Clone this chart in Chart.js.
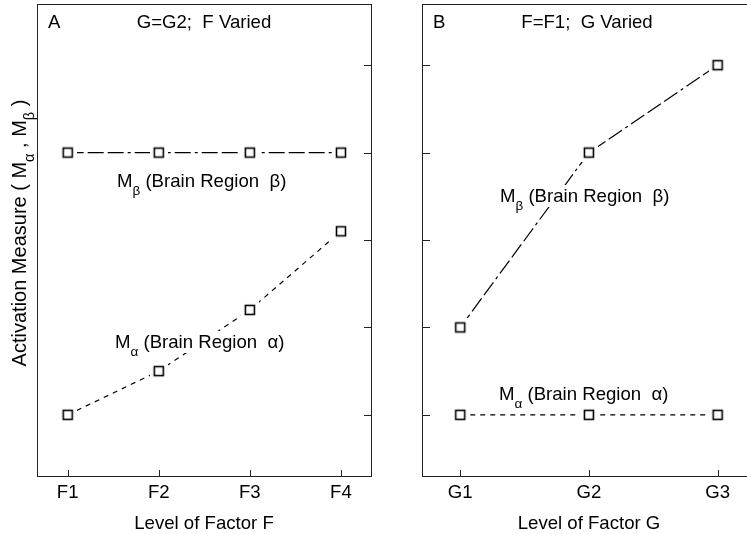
<!DOCTYPE html>
<html><head><meta charset="utf-8">
<script src="https://cdn.jsdelivr.net/npm/chart.js@4.4.1/dist/chart.umd.min.js"></script>
<style>
html,body{margin:0;padding:0;background:#fff;overflow:hidden;width:747px;height:534px;}
#wrap{position:relative;width:747px;height:534px;overflow:hidden;background:#fff;}
.pane{position:absolute;top:0;width:380px;height:534px;}
#pa{left:0;}
#pb{left:380px;}
canvas{display:block;}
</style></head><body>
<div id="wrap">
<div class="pane" id="pa"><canvas id="ca" width="380" height="534"></canvas></div>
<div class="pane" id="pb"><canvas id="cb" width="380" height="534"></canvas></div>
</div>
<script>
// ---- data ----
const factorF = ['F1', 'F2', 'F3', 'F4'];
const factorG = ['G1', 'G2', 'G3'];
const alphaVaryF = [1, 1.5, 2.2, 3.1];   // M_alpha, G=G2, F varied
const betaVaryF  = [4, 4, 4, 4];         // M_beta,  G=G2, F varied
const alphaVaryG = [1, 1, 1];            // M_alpha, F=F1, G varied
const betaVaryG  = [2, 4, 5];            // M_beta,  F=F1, G varied
const yTickValues = [1, 2, 3, 4, 5];

// ---- styling ----
const FONT = "'Liberation Sans', Arial, Helvetica, sans-serif";
const FS = 18.6, SUB = 13.5;
const INK = '#000';
const ALPHA_DASH = [5, 5];
const BETA_DASH = [16, 4, 16, 4, 16, 4, 3, 4];

// open square marker with a white margin, so lines stop short of it
const marker = (() => {
  const c = document.createElement('canvas');
  c.width = 18; c.height = 18;
  const g = c.getContext('2d');
  g.fillStyle = '#fff'; g.fillRect(0, 0, 18, 18);
  g.strokeStyle = INK; g.lineWidth = 1.6;
  g.strokeRect(4.5, 4.5, 9, 9);
  return c;
})();

function pts(vals) { return vals.map((v, i) => ({ x: i, y: v })); }

function richText(ctx, x, y, parts, align, size, knockout) {
  const fs = size || FS, ss = SUB * fs / FS;
  let total = 0;
  const widths = parts.map(p => {
    ctx.font = (p.sub ? ss : fs) + 'px ' + FONT;
    const w = ctx.measureText(p.t).width; total += w; return w;
  });
  let cx = align === 'center' ? x - total / 2 : x;
  if (knockout) {
    ctx.save();
    ctx.fillStyle = '#fff';
    ctx.fillRect(cx - 2, y - 17, total + 4, 22);
    ctx.restore();
  }
  parts.forEach((p, i) => {
    ctx.font = (p.sub ? ss : fs) + 'px ' + FONT;
    ctx.fillText(p.t, cx, y + (p.sub ? 8 : 0));
    cx += widths[i];
  });
}

function makePanel(canvas, cfg) {
  const decor = {
    id: 'decor',
    beforeDatasetsDraw(chart) {
      const { ctx, chartArea: a, scales } = chart;
      ctx.save();
      ctx.strokeStyle = '#222';
      ctx.lineWidth = 1;
      ctx.strokeRect(a.left + 0.5, a.top + 0.5, a.right - a.left, a.bottom - a.top);
      ctx.beginPath();
      cfg.labels.forEach((_, i) => {
        const px = Math.round(scales.x.getPixelForValue(i)) + 0.5;
        ctx.moveTo(px, a.bottom + 0.5); ctx.lineTo(px, a.bottom - 6);
      });
      yTickValues.forEach(v => {
        const py = Math.round(scales.y.getPixelForValue(v)) + 0.5;
        if (cfg.ySide === 'right') { ctx.moveTo(a.right + 0.5, py); ctx.lineTo(a.right - 7, py); }
        else { ctx.moveTo(a.left + 0.5, py); ctx.lineTo(a.left + 8, py); }
      });
      ctx.stroke();
      ctx.restore();
    },
    afterDatasetsDraw(chart) {
      const { ctx } = chart;
      ctx.save();
      ctx.fillStyle = INK;
      ctx.textBaseline = 'alphabetic';
      ctx.font = FS + 'px ' + FONT;
      ctx.textAlign = 'left';
      ctx.fillText(cfg.letter, cfg.letterX, 28);
      ctx.textAlign = 'center';
      ctx.fillText(cfg.heading, cfg.headingX, 28);
      ctx.textAlign = 'left';
      cfg.notes.forEach(n => richText(ctx, n.x, n.y, n.parts, 'left', FS, true));
      if (cfg.yTitle) {
        ctx.save();
        ctx.translate(26, 233);
        ctx.rotate(-Math.PI / 2);
        richText(ctx, 0, 0, cfg.yTitle, 'center', 20, false);
        ctx.restore();
      }
      ctx.restore();
    }
  };

  const ds = (label, vals, dash) => ({
    label, data: pts(vals), borderColor: INK, borderWidth: 1.2, borderDash: dash,
    pointStyle: marker, pointRadius: 7, tension: 0
  });

  return new Chart(canvas, {
    type: 'line',
    data: { datasets: [ds('M_beta', cfg.beta, BETA_DASH), ds('M_alpha', cfg.alpha, ALPHA_DASH)] },
    options: {
      responsive: false,
      animation: false,
      devicePixelRatio: 1,
      layout: { padding: cfg.padding, autoPadding: false },
      plugins: { legend: { display: false }, tooltip: { enabled: false } },
      scales: {
        x: {
          type: 'linear', min: cfg.xMin, max: cfg.xMax,
          afterBuildTicks: s => { s.ticks = cfg.labels.map((_, i) => ({ value: i })); },
          afterFit: s => { s.height = 58; s.paddingLeft = 0; s.paddingRight = 0; },
          grid: { display: false, drawTicks: false },
          border: { display: false },
          ticks: { autoSkip: false, maxRotation: 0, padding: 8, color: INK,
                   font: { family: FONT, size: FS, lineHeight: 1 },
                   callback: v => cfg.labels[v] },
          title: { display: true, text: cfg.xTitle, color: INK, padding: { top: 0, bottom: 1 },
                   font: { family: FONT, size: FS, lineHeight: 1 } }
        },
        y: {
          type: 'linear', min: 0.3, max: 5.7,
          afterBuildTicks: s => { s.ticks = yTickValues.map(v => ({ value: v })); },
          afterFit: s => { s.width = 0; s.paddingTop = 0; s.paddingBottom = 0; },
          grid: { display: false, drawTicks: false },
          border: { display: false },
          ticks: { display: false }
        }
      }
    },
    plugins: [decor]
  });
}

makePanel(document.getElementById('ca'), {
  labels: factorF, alpha: alphaVaryF, beta: betaVaryF,
  xMin: -0.337, xMax: 3.33,
  padding: { left: 37, right: 9, top: 4, bottom: 0 },
  ySide: 'right',
  letter: 'A', letterX: 48, heading: 'G=G2;  F Varied', headingX: 204,
  xTitle: 'Level of Factor F',
  notes: [
    { x: 117, y: 187, parts: [{ t: 'M' }, { t: 'β', sub: true }, { t: ' (Brain Region  β)' }] },
    { x: 115, y: 348, parts: [{ t: 'M' }, { t: 'α', sub: true }, { t: ' (Brain Region  α)' }] }
  ],
  yTitle: [{ t: 'Activation Measure ( M' }, { t: 'α', sub: true }, { t: ' , M' }, { t: 'β', sub: true }, { t: ' )' }]
});

makePanel(document.getElementById('cb'), {
  labels: factorG, alpha: alphaVaryG, beta: betaVaryG,
  xMin: -0.297, xMax: 2.298,
  padding: { left: 42, right: 4, top: 4, bottom: 0 },
  ySide: 'left',
  letter: 'B', letterX: 53, heading: 'F=F1;  G Varied', headingX: 207,
  xTitle: 'Level of Factor G',
  notes: [
    { x: 120, y: 202, parts: [{ t: 'M' }, { t: 'β', sub: true }, { t: ' (Brain Region  β)' }] },
    { x: 119, y: 400, parts: [{ t: 'M' }, { t: 'α', sub: true }, { t: ' (Brain Region  α)' }] }
  ],
  yTitle: null
});
</script>
</body></html>
